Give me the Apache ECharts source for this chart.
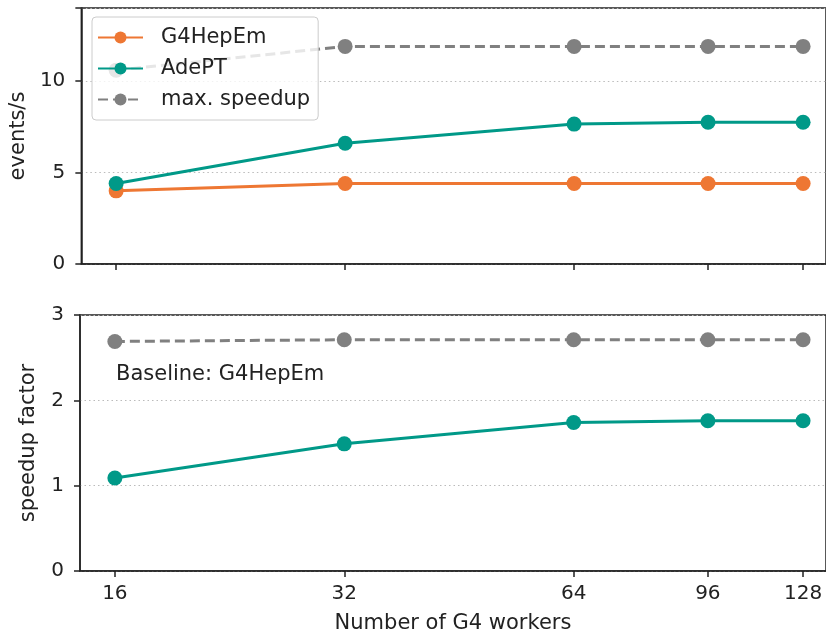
<!DOCTYPE html>
<html>
<head>
<meta charset="utf-8">
<script src="https://cdn.jsdelivr.net/npm/echarts@6/dist/echarts.min.js"></script>
<style>
  html, body { margin: 0; padding: 0; background: #fff; }
  #main { width: 826px; height: 635px; }
</style>
</head>
<body>
<div id="main"></div>
<script>
// number of G4 worker threads (x, drawn on a log2 scale)
var workers = [16, 32, 64, 96, 128];
// events/s
var g4hepem = [4.0, 4.4, 4.4, 4.4, 4.4];
var adept = [4.4, 6.6, 7.65, 7.75, 7.75];
var maxEvents = [10.6, 11.9, 11.9, 11.9, 11.9];
// speedup relative to G4HepEm
var adeptSpeedup = [1.09, 1.49, 1.74, 1.76, 1.76];
var maxSpeedup = [2.69, 2.71, 2.71, 2.71, 2.71];

var ORANGE = '#ee7733';
var TEAL = '#009988';
var GREY = '#808080';
var FONT = 'DejaVu Sans';

var logX = workers.map(function (w) { return Math.log2(w); });
function pts(ys) {
    return ys.map(function (y, i) { return [logX[i], y]; });
}

function xAxis(idx, showLabels) {
    return {
        type: 'value',
        gridIndex: idx,
        min: 3.848,
        max: 7.1,
        name: showLabels ? 'Number of G4 workers' : '',
        nameLocation: 'middle',
        nameGap: 42,
        nameTextStyle: { fontFamily: FONT, fontSize: 21, color: '#222' },
        axisLine: { show: true, onZero: false, lineStyle: { color: '#222', width: 1.5 } },
        axisTick: { show: true, customValues: logX, length: 6, lineStyle: { color: '#222', width: 1.5 } },
        axisLabel: {
            show: showLabels,
            customValues: logX,
            fontFamily: FONT, fontSize: 20, color: '#222', margin: 13,
            formatter: function (v) { return Math.round(Math.pow(2, v)); }
        },
        splitLine: { show: false }
    };
}

function yAxis(idx, max, interval, name, gap) {
    return {
        type: 'value',
        gridIndex: idx,
        min: 0,
        max: max,
        interval: interval,
        name: name,
        nameLocation: 'middle',
        nameGap: gap,
        nameTextStyle: { fontFamily: FONT, fontSize: 21, color: '#222' },
        axisLine: { show: true, lineStyle: { color: '#222', width: 1.5 } },
        axisTick: { show: true, length: 6, lineStyle: { color: '#222', width: 1.5 } },
        axisLabel: {
            fontFamily: FONT, fontSize: 20, color: '#222', margin: 16,
            formatter: function (v) { return v > max - 0.5 && v % interval !== 0 ? '' : v; }
        },
        splitLine: { show: true, lineStyle: { color: '#bbb', type: [1.5, 3], width: 1 } }
    };
}

function line(name, data, color, dashed, xi, yi) {
    return {
        name: name,
        type: 'line',
        xAxisIndex: xi,
        yAxisIndex: yi,
        data: pts(data),
        symbol: 'circle',
        symbolSize: 15,
        itemStyle: { color: color },
        lineStyle: { color: color, width: 3, type: dashed ? [10, 5] : 'solid' },
        emphasis: { disabled: true },
        animation: false
    };
}

var chart = echarts.init(document.getElementById('main'));
chart.setOption({
    backgroundColor: '#fff',
    animation: false,
    grid: [
        { left: 80, right: -2, top: 8, height: 256, show: true, borderColor: '#222', borderWidth: 1.5 },
        { left: 80, right: -2, top: 315, height: 258, show: true, borderColor: '#222', borderWidth: 1.5 }
    ],
    xAxis: [xAxis(0, false), xAxis(1, true)],
    yAxis: [yAxis(0, 14, 5, 'events/s', 44), yAxis(1, 3, 1, 'speedup factor', 41)],
    legend: {
        data: ['G4HepEm', 'AdePT', 'max. speedup'],
        orient: 'vertical',
        left: 92,
        top: 17,
        itemWidth: 45,
        itemHeight: 15,
        itemGap: 10,
        padding: [10, 8, 10, 5],
        backgroundColor: 'rgba(255,255,255,0.8)',
        borderColor: '#ccc',
        borderWidth: 1,
        borderRadius: 4,
        textStyle: { fontFamily: FONT, fontSize: 21, color: '#222', padding: [0, 0, 0, 13] }
    },
    graphic: [{
        type: 'text',
        left: 116,
        top: 364,
        style: { text: 'Baseline: G4HepEm', font: '21px "DejaVu Sans"', fill: '#222' }
    }],
    series: [
        line('G4HepEm', g4hepem, ORANGE, false, 0, 0),
        line('AdePT', adept, TEAL, false, 0, 0),
        line('max. speedup', maxEvents, GREY, true, 0, 0),
        line('AdePT', adeptSpeedup, TEAL, false, 1, 1),
        line('max. speedup', maxSpeedup, GREY, true, 1, 1)
    ]
});
</script>
</body>
</html>
